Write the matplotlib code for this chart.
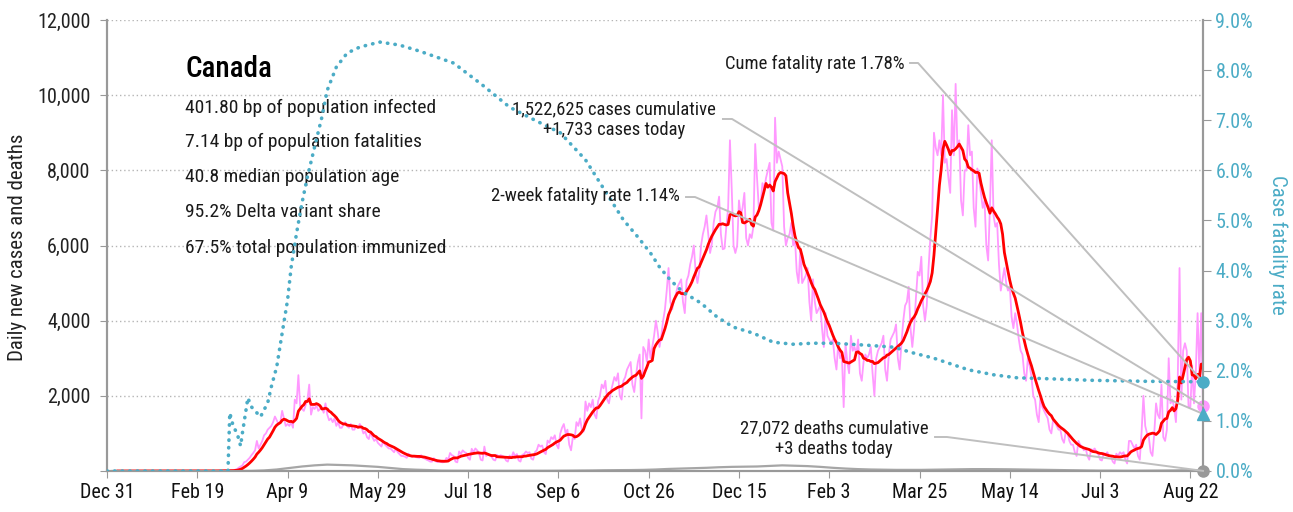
"""
Canada daily COVID-19 cases, deaths and case fatality rate, Dec 2019 - Aug 2021.
Outputs: out.png
"""
import pandas as pd
import matplotlib
matplotlib.use('Agg')
import matplotlib.pyplot as plt
import matplotlib.dates as mdates

plt.rcParams['font.family'] = ['Roboto Condensed', 'IBM Plex Sans Condensed', 'DejaVu Sans']

start = '2019-12-31'

# Daily new cases, one row per week (Tue..Mon)
daily_cases = [
    0, 0, 0, 0, 0, 0, 0,
    0, 0, 0, 0, 0, 0, 0,
    0, 0, 0, 0, 0, 0, 0,
    0, 0, 0, 0, 1, 0, 0,
    0, 1, 0, 0, 0, 0, 0,
    0, 0, 0, 0, 1, 0, 0,
    0, 0, 0, 0, 0, 0, 0,
    0, 0, 1, 0, 0, 1, 0,
    4, 1, 2, 3, 4, 5, 4,
    3, 4, 7, 11, 9, 5, 15,
    20, 35, 50, 90, 120, 150, 235,
    250, 300, 350, 420, 480, 550, 800,
    600, 700, 800, 950, 1000, 1100, 1150,
    1200, 1300, 1450, 1350, 1250, 1300, 1600,
    1400, 1200, 1250, 1200, 1300, 1150, 1900,
    1800, 2550, 1700, 1650, 1600, 1750, 1900,
    2300, 1500, 1700, 1650, 1750, 1600, 1650,
    1700, 1550, 1800, 1500, 1350, 1400, 1300,
    1400, 1200, 1300, 1150, 1150, 1250, 1300,
    1200, 1150, 1250, 1100, 1100, 1200, 1150,
    1250, 1150, 1000, 1050, 900, 850, 1050,
    900, 800, 850, 750, 700, 650, 800,
    700, 650, 600, 600, 550, 500, 600,
    500, 450, 400, 400, 380, 350, 460,
    400, 380, 400, 370, 360, 350, 420,
    350, 330, 300, 280, 250, 250, 340,
    260, 240, 250, 240, 230, 250, 350,
    300, 480, 420, 400, 250, 230, 520,
    450, 550, 500, 480, 350, 300, 590,
    500, 600, 550, 480, 300, 280, 650,
    400, 450, 420, 380, 300, 280, 430,
    380, 420, 400, 380, 280, 250, 410,
    350, 500, 400, 450, 280, 250, 430,
    450, 520, 480, 500, 330, 300, 500,
    550, 700, 650, 680, 500, 450, 810,
    750, 900, 850, 950, 700, 600, 990,
    1150, 1250, 1000, 1100, 700, 550, 900,
    850, 1300, 1200, 1400, 1100, 1050, 1850,
    1600, 1800, 1700, 1900, 1500, 1400, 1860,
    2000, 2300, 2200, 2400, 1900, 1800, 2100,
    2300, 2500, 2400, 2600, 2000, 1900, 2400,
    2500, 2700, 2800, 2900, 2300, 2100, 2550,
    2900, 3100, 1400, 3300, 3200, 2900, 3500,
    3000, 3300, 3600, 4000, 3700, 3300, 3600,
    4000, 4300, 4800, 5400, 4500, 4300, 4550,
    4700, 4900, 5000, 5100, 4500, 4200, 5060,
    5200, 5500, 5700, 6000, 5300, 5000, 5310,
    6000, 6300, 6500, 6800, 6300, 5800, 6050,
    6600, 6900, 7000, 7300, 6300, 5900, 5920,
    6500, 7000, 8800, 7500, 6000, 5800, 6000,
    7200, 6800, 7000, 7400, 6200, 6000, 6300,
    6200, 6500, 8700, 7800, 7000, 7100, 7660,
    7500, 7800, 8000, 8200, 6600, 6400, 9400,
    8200, 8500, 8300, 8100, 6500, 6000, 6200,
    6300, 6600, 6000, 6200, 5300, 5000, 5900,
    5000, 5100, 5200, 5400, 4500, 4000, 5100,
    4500, 4200, 4300, 4400, 3800, 3300, 4200,
    3600, 3500, 3400, 3500, 3000, 2700, 3400,
    3000, 3100, 1700, 3400, 2900, 2600, 3600,
    3200, 3300, 3100, 3500, 2600, 2400, 2900,
    3100, 3000, 3100, 3300, 2600, 2000, 2990,
    3200, 3300, 3400, 3600, 2700, 2400, 3100,
    3500, 3600, 3700, 3900, 3000, 2700, 3400,
    4000, 4400, 4500, 4900, 3800, 3300, 3800,
    4600, 5300, 5200, 5700, 4400, 4000, 4400,
    5400, 6200, 6800, 9000, 8600, 8400, 8800,
    8400, 10000, 8200, 8300, 7800, 7400, 9600,
    8400, 10300, 8600, 8800, 7200, 6800, 8000,
    8000, 9200, 8400, 8500, 7000, 6500, 8050,
    7800, 7400, 7000, 7200, 6000, 5600, 7020,
    8800, 6800, 6500, 6600, 5500, 4800, 5100,
    5400, 5000, 4800, 4900, 4100, 3800, 4200,
    3900, 3500, 3200, 3100, 2600, 2400, 3000,
    2800, 2500, 2000, 1900, 1500, 1300, 2000,
    1700, 1600, 1500, 1400, 1100, 1000, 1360,
    1300, 1200, 1100, 1100, 850, 750, 1050,
    1000, 800, 700, 700, 500, 400, 800,
    700, 650, 550, 600, 400, 300, 580,
    550, 600, 500, 450, 300, 280, 470,
    450, 500, 400, 400, 250, 200, 460,
    400, 500, 450, 500, 300, 200, 800,
    800, 700, 600, 700, 400, 300, 1050,
    2000, 1200, 1000, 900, 500, 400, 1000,
    1800, 1500, 1400, 2300, 900, 800, 1100,
    3000, 1800, 1900, 1700, 1300, 2400, 5400,
    1900, 3200, 3400, 3200, 1700, 1700, 2800,
    1800, 2600, 4200, 2600, 4200, 1733,
]

# Average daily deaths per week
weekly_deaths = [
    0, 0, 0, 0, 0, 0, 0, 0, 0, 0,
    1, 3, 15, 40, 80, 120, 150, 170, 160, 150, 130, 110, 80, 50, 35, 25,
    10, 8, 7, 6, 6, 5, 5, 6, 6, 7, 9, 12,
    15, 20, 23, 25, 30, 40, 55, 65, 75, 85,
    100, 110, 115, 120, 135, 150, 140, 130, 110, 85,
    65, 50, 40, 35, 30, 30, 30, 35, 40, 45,
    50, 50, 48, 45, 40, 35, 30, 25, 20, 15,
    10, 10, 8, 8, 10, 12, 15, 20, 20,
]

# Cumulative case fatality rate (%), by day since Dec 31
cfr_day = [0, 67, 68, 70, 72, 74, 75, 77, 78, 80, 83, 85, 89, 91, 94, 97,
           100, 102, 105, 108, 111, 115, 119, 122, 127, 133, 140, 151, 162,
           173, 192, 208, 223, 237, 251, 265, 272, 279, 286, 294, 301, 306,
           312, 319, 329, 338, 347, 358, 369, 380, 391, 402, 421, 436, 445,
           458, 477, 491, 504, 522, 545, 575, 607]
cfr_pct = [0, 0, 1.16, 0.88, 0.76, 0.50, 0.76, 1.22, 1.46, 1.28, 1.16, 1.08,
           1.36, 1.68, 2.08, 2.75, 3.41, 4.07, 4.75, 5.35, 5.87, 6.47, 7.06,
           7.60, 8.06, 8.34, 8.46, 8.56, 8.50, 8.38, 8.14, 7.70, 7.26, 7.00,
           6.75, 6.21, 5.81, 5.41, 5.01, 4.67, 4.35, 4.07, 3.81, 3.57, 3.35,
           3.07, 2.87, 2.75, 2.57, 2.53, 2.55, 2.55, 2.51, 2.47, 2.37, 2.25,
           2.02, 1.92, 1.86, 1.84, 1.81, 1.79, 1.78]

cases_today = 1733
deaths_today = 3
cume_cfr = 1.78
two_week_cfr = 1.14

stats = [
    '401.80 bp of population infected',
    '7.14 bp of population fatalities',
    '40.8 median population age',
    '95.2% Delta variant share',
    '67.5% total population immunized',
]

PINK = '#ff99ff'
RED = '#ff0000'
TEAL = '#4bacc6'
GRAY = '#a6a6a6'
AXIS = '#999999'
LEADER = '#bfbfbf'

dates = pd.date_range(start, periods=len(daily_cases), freq='D')
cases = pd.Series(daily_cases, index=dates, dtype=float)
avg7 = cases.rolling(7).mean()
death_dates = dates[::7][:len(weekly_deaths)] + pd.Timedelta(days=3)
cfr_dates = pd.Timestamp(start) + pd.to_timedelta(cfr_day, unit='D')
last = dates[-1]

fig = plt.figure(figsize=(12.93, 5.12), dpi=100)
ax = fig.add_axes([107 / 1293, 41 / 512, 1096 / 1293, 451 / 512])
ax2 = ax.twinx()

ax.plot(dates, cases.values, color=PINK, lw=1.3, zorder=3)
ax.plot(dates, avg7.values, color=RED, lw=2.0, zorder=4)
ax.plot(death_dates, weekly_deaths, color=GRAY, lw=1.6, zorder=3)
ax.plot([last], [cases_today], 'o', color=PINK, ms=8, clip_on=False, zorder=6)
ax.plot([last], [deaths_today], 'o', color='#999999', ms=8, clip_on=False, zorder=6)

ax2.plot(cfr_dates, cfr_pct, color=TEAL, lw=2.6, linestyle=(0, (0.1, 2.0)),
         dash_capstyle='round', zorder=3)
ax2.plot([last], [cume_cfr], 'o', color=TEAL, ms=8, clip_on=False, zorder=6)
ax2.plot([last], [two_week_cfr], '^', color=TEAL, ms=9, clip_on=False, zorder=6)

ax.set_xlim(dates[0], last)
ax.set_ylim(0, 12000)
ax2.set_ylim(0, 9)

# axes styling
ax.set_xticks(dates[::50])
ax.xaxis.set_major_formatter(mdates.DateFormatter('%b %-d'))
ax.set_yticks(range(0, 12001, 2000))
ax.set_yticklabels([f'{v:,}' if v else '' for v in range(0, 12001, 2000)])
ax2.set_yticks(range(0, 10))
ax2.set_yticklabels([f'{v:.1f}%' for v in range(0, 10)])

ax.yaxis.grid(True, linestyle=(0, (1, 2)), color='#b5b5b5', lw=1)
ax.set_axisbelow(True)
for a in (ax, ax2):
    a.spines['top'].set_visible(False)
    for s in ('left', 'right', 'bottom'):
        a.spines[s].set_color(AXIS)
        a.spines[s].set_linewidth(1.5)
ax.tick_params(axis='x', length=5, color=AXIS, labelsize=14.5, pad=4, labelcolor='#111111')
ax.tick_params(axis='y', length=5, color=AXIS, labelsize=14.5, pad=7, labelcolor='#222222')
ax2.tick_params(axis='y', length=6, color=AXIS, labelsize=14.5, pad=3, labelcolor=TEAL)

fig.text(18 / 1293, (512 - 247) / 512, 'Daily new cases and deaths', rotation=90,
         ha='center', va='center', fontsize=15, color='#222222')
fig.text(1278 / 1293, (512 - 245) / 512, 'Case fatality rate', rotation=270,
         ha='center', va='center', fontsize=15, color=TEAL)

# country summary block
ax.text(0.0712, 0.8736, 'Canada', transform=ax.transAxes, fontsize=21,
        fontweight='medium', va='baseline', ha='left', color='#000000')
for line, yb in zip(stats, [0.7938, 0.7184, 0.6408, 0.5632, 0.4834]):
    ax.text(0.0712, yb, line, transform=ax.transAxes, fontsize=14,
            va='baseline', ha='left', color='#1a1a1a')


def to_axes(axis, x, y):
    disp = axis.transData.transform((mdates.date2num(x), y))
    return ax.transAxes.inverted().transform(disp)


# callouts: (text, text x, text y, align, stub start, stub end, stub y, axis, target value)
callouts = [
    ('Cume fatality rate 1.78%', 0.7281, 0.9024, 'right', 0.7327, 0.7400, 0.9047, ax2, cume_cfr),
    ('1,522,625 cases cumulative\n+1,733 cases today', 0.4626, 0.7794, 'center',
     0.5620, 0.5703, 0.7805, ax, cases_today),
    ('2-week fatality rate 1.14%', 0.5228, 0.6098, 'right', 0.5283, 0.5365, 0.6075, ax2, two_week_cfr),
    ('27,072 deaths cumulative\n+3 deaths today', 0.6633, 0.0710, 'center',
     0.7555, 0.7664, 0.0754, ax, deaths_today),
]
for label, tx, ty, ha, s0, s1, sy, axis, target in callouts:
    ax2.text(tx, ty, label, transform=ax.transAxes, ha=ha, va='center',
             fontsize=13.4, color='#1a1a1a', multialignment='center', zorder=7)
    ex, ey = to_axes(axis, last, target)
    ax2.plot([s0, s1, ex], [sy, sy, ey], transform=ax.transAxes,
             color=LEADER, lw=1.4, zorder=5, clip_on=False)

fig.savefig('out.png', dpi=100)
plt.close(fig)
